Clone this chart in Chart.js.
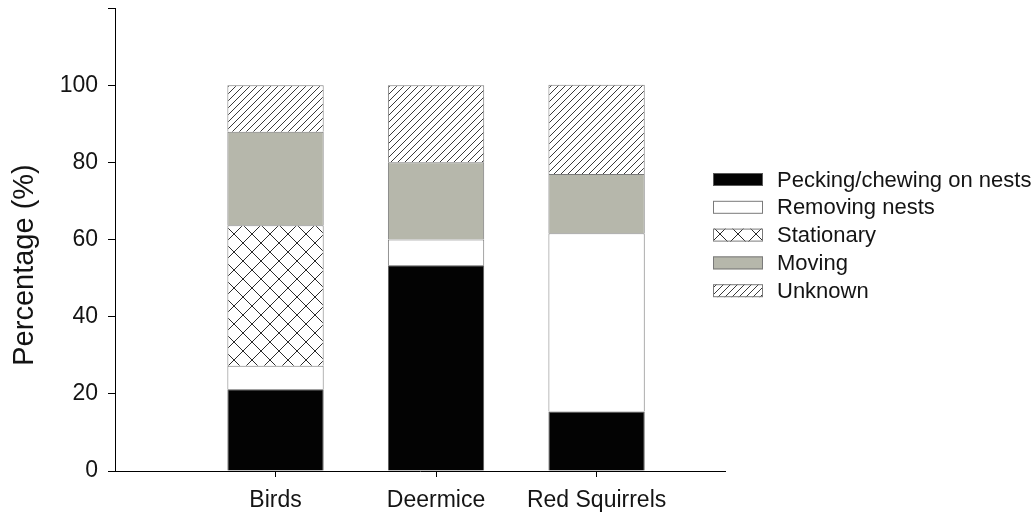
<!DOCTYPE html>
<html>
<head>
<meta charset="utf-8">
<script src="https://cdn.jsdelivr.net/npm/chart.js@4.4.1/dist/chart.umd.min.js"></script>
<style>
  html, body { margin: 0; padding: 0; background: #ffffff; }
  #wrap { width: 1035px; height: 518px; }
</style>
</head>
<body>
<div id="wrap"><canvas id="chart" width="1035" height="518"></canvas></div>
<script>
// Behaviour categories, as percentage of observations per visitor group
const categories = ['Birds', 'Deermice', 'Red Squirrels'];
const pecking    = [21.2, 53.3, 15.4];
const removing   = [6.1, 6.7, 46.2];
const stationary = [36.4, 0, 0];
const moving     = [24.2, 20.0, 15.4];
const unknown    = [12.1, 20.0, 23.1];
const yTickStep  = 20;
const yMax       = 120;
const yLabelMax  = 100;
const yTitle     = 'Percentage (%)';

const FONT = "'Liberation Sans', Arial, Helvetica, sans-serif";
const TEXT = '#141414';
const EDGE = '#7a7a7a';

// Fill patterns
function makePattern(size, draw) {
  const c = document.createElement('canvas');
  c.width = size; c.height = size;
  const g = c.getContext('2d');
  g.fillStyle = '#ffffff';
  g.fillRect(0, 0, size, size);
  draw(g, size);
  return g.createPattern(c, 'repeat');
}
const ctx0 = document.getElementById('chart').getContext('2d');
const diagonal = makePattern(7, (g, s) => {
  g.strokeStyle = '#3a3a3a';
  g.lineWidth = 1;
  g.beginPath();
  g.moveTo(-1, s + 1); g.lineTo(s + 1, -1);
  g.moveTo(-1, 1); g.lineTo(1, -1);
  g.moveTo(s - 1, s + 1); g.lineTo(s + 1, s - 1);
  g.stroke();
});
const crossed = makePattern(18, (g, s) => {
  g.strokeStyle = '#2a2a2a';
  g.lineWidth = 1;
  g.beginPath();
  g.moveTo(0, 0); g.lineTo(s, s);
  g.moveTo(0, s); g.lineTo(s, 0);
  g.stroke();
});

const toPoints = arr => arr.map((v, i) => ({ x: i + 1, y: v }));

function series(label, values, fill, edge) {
  return {
    label,
    data: toPoints(values),
    backgroundColor: fill,
    borderColor: edge,
    borderWidth: { top: 1, left: 1, right: 1, bottom: 0 },
    borderSkipped: false,
    categoryPercentage: 1.0,
    barPercentage: 0.6
  };
}

// Legend on the right-hand side, plus the rotated y-axis title
const sideLegend = {
  id: 'sideLegend',
  afterDraw(chart, args, opts) {
    const { ctx } = chart;
    ctx.save();
    ctx.font = opts.fontSize + 'px ' + FONT;
    ctx.textBaseline = 'middle';
    ctx.textAlign = 'left';
    chart.data.datasets.forEach((ds, i) => {
      const top = opts.top + i * opts.step;
      ctx.fillStyle = ds.backgroundColor;
      ctx.fillRect(opts.left, top, opts.boxW, opts.boxH);
      ctx.strokeStyle = ds.borderColor;
      ctx.lineWidth = 1;
      ctx.strokeRect(opts.left + 0.5, top + 0.5, opts.boxW - 1, opts.boxH - 1);
      ctx.fillStyle = TEXT;
      ctx.fillText(ds.label, opts.textX, top + opts.boxH / 2 + 1);
    });
    ctx.restore();

    ctx.save();
    ctx.translate(opts.titleX, opts.titleY);
    ctx.rotate(-Math.PI / 2);
    ctx.font = opts.titleSize + 'px ' + FONT;
    ctx.textAlign = 'center';
    ctx.textBaseline = 'middle';
    ctx.fillStyle = TEXT;
    ctx.fillText(yTitle, 0, 0);
    ctx.restore();
  }
};

new Chart(ctx0, {
  type: 'bar',
  data: {
    datasets: [
      series('Pecking/chewing on nests', pecking, '#030303', '#5a5a5a'),
      series('Removing nests', removing, '#ffffff', EDGE),
      series('Stationary', stationary, crossed, EDGE),
      series('Moving', moving, '#b6b7ab', EDGE),
      series('Unknown', unknown, diagonal, EDGE)
    ]
  },
  plugins: [sideLegend],
  options: {
    responsive: false,
    animation: false,
    layout: { padding: { top: 8, right: 310, left: 0, bottom: 0 } },
    plugins: {
      legend: { display: false },
      tooltip: { enabled: false },
      sideLegend: {
        left: 713, top: 173, step: 27.8, boxW: 50, boxH: 13, textX: 777, fontSize: 22,
        titleX: 25, titleY: 265, titleSize: 29
      }
    },
    scales: {
      x: {
        type: 'linear',
        min: 0,
        max: 3.8,
        offset: false,
        stacked: true,
        afterBuildTicks: s => { s.ticks = categories.map((_, i) => ({ value: i + 1 })); },
        afterFit: s => { s.height = 47; s.paddingLeft = 0; s.paddingRight = 0; },
        ticks: {
          callback: v => categories[v - 1],
          autoSkip: false,
          maxRotation: 0,
          color: TEXT,
          padding: 10,
          font: { family: FONT, size: 23 }
        },
        grid: { offset: false, drawOnChartArea: false, drawTicks: true, tickLength: 6, tickColor: '#000', tickWidth: 1 },
        border: { display: true, color: '#000', width: 1 }
      },
      y: {
        min: 0,
        max: yMax,
        stacked: true,
        afterFit: s => { s.width = 115; s.paddingTop = 0; s.paddingBottom = 0; },
        ticks: {
          stepSize: yTickStep,
          callback: v => (v > yLabelMax ? '' : v),
          color: TEXT,
          padding: 10,
          font: { family: FONT, size: 23 }
        },
        grid: { drawOnChartArea: false, drawTicks: true, tickLength: 7, tickColor: '#000', tickWidth: 1 },
        border: { display: true, color: '#000', width: 1 },
        title: { display: false }
      }
    }
  }
});
</script>
</body>
</html>
